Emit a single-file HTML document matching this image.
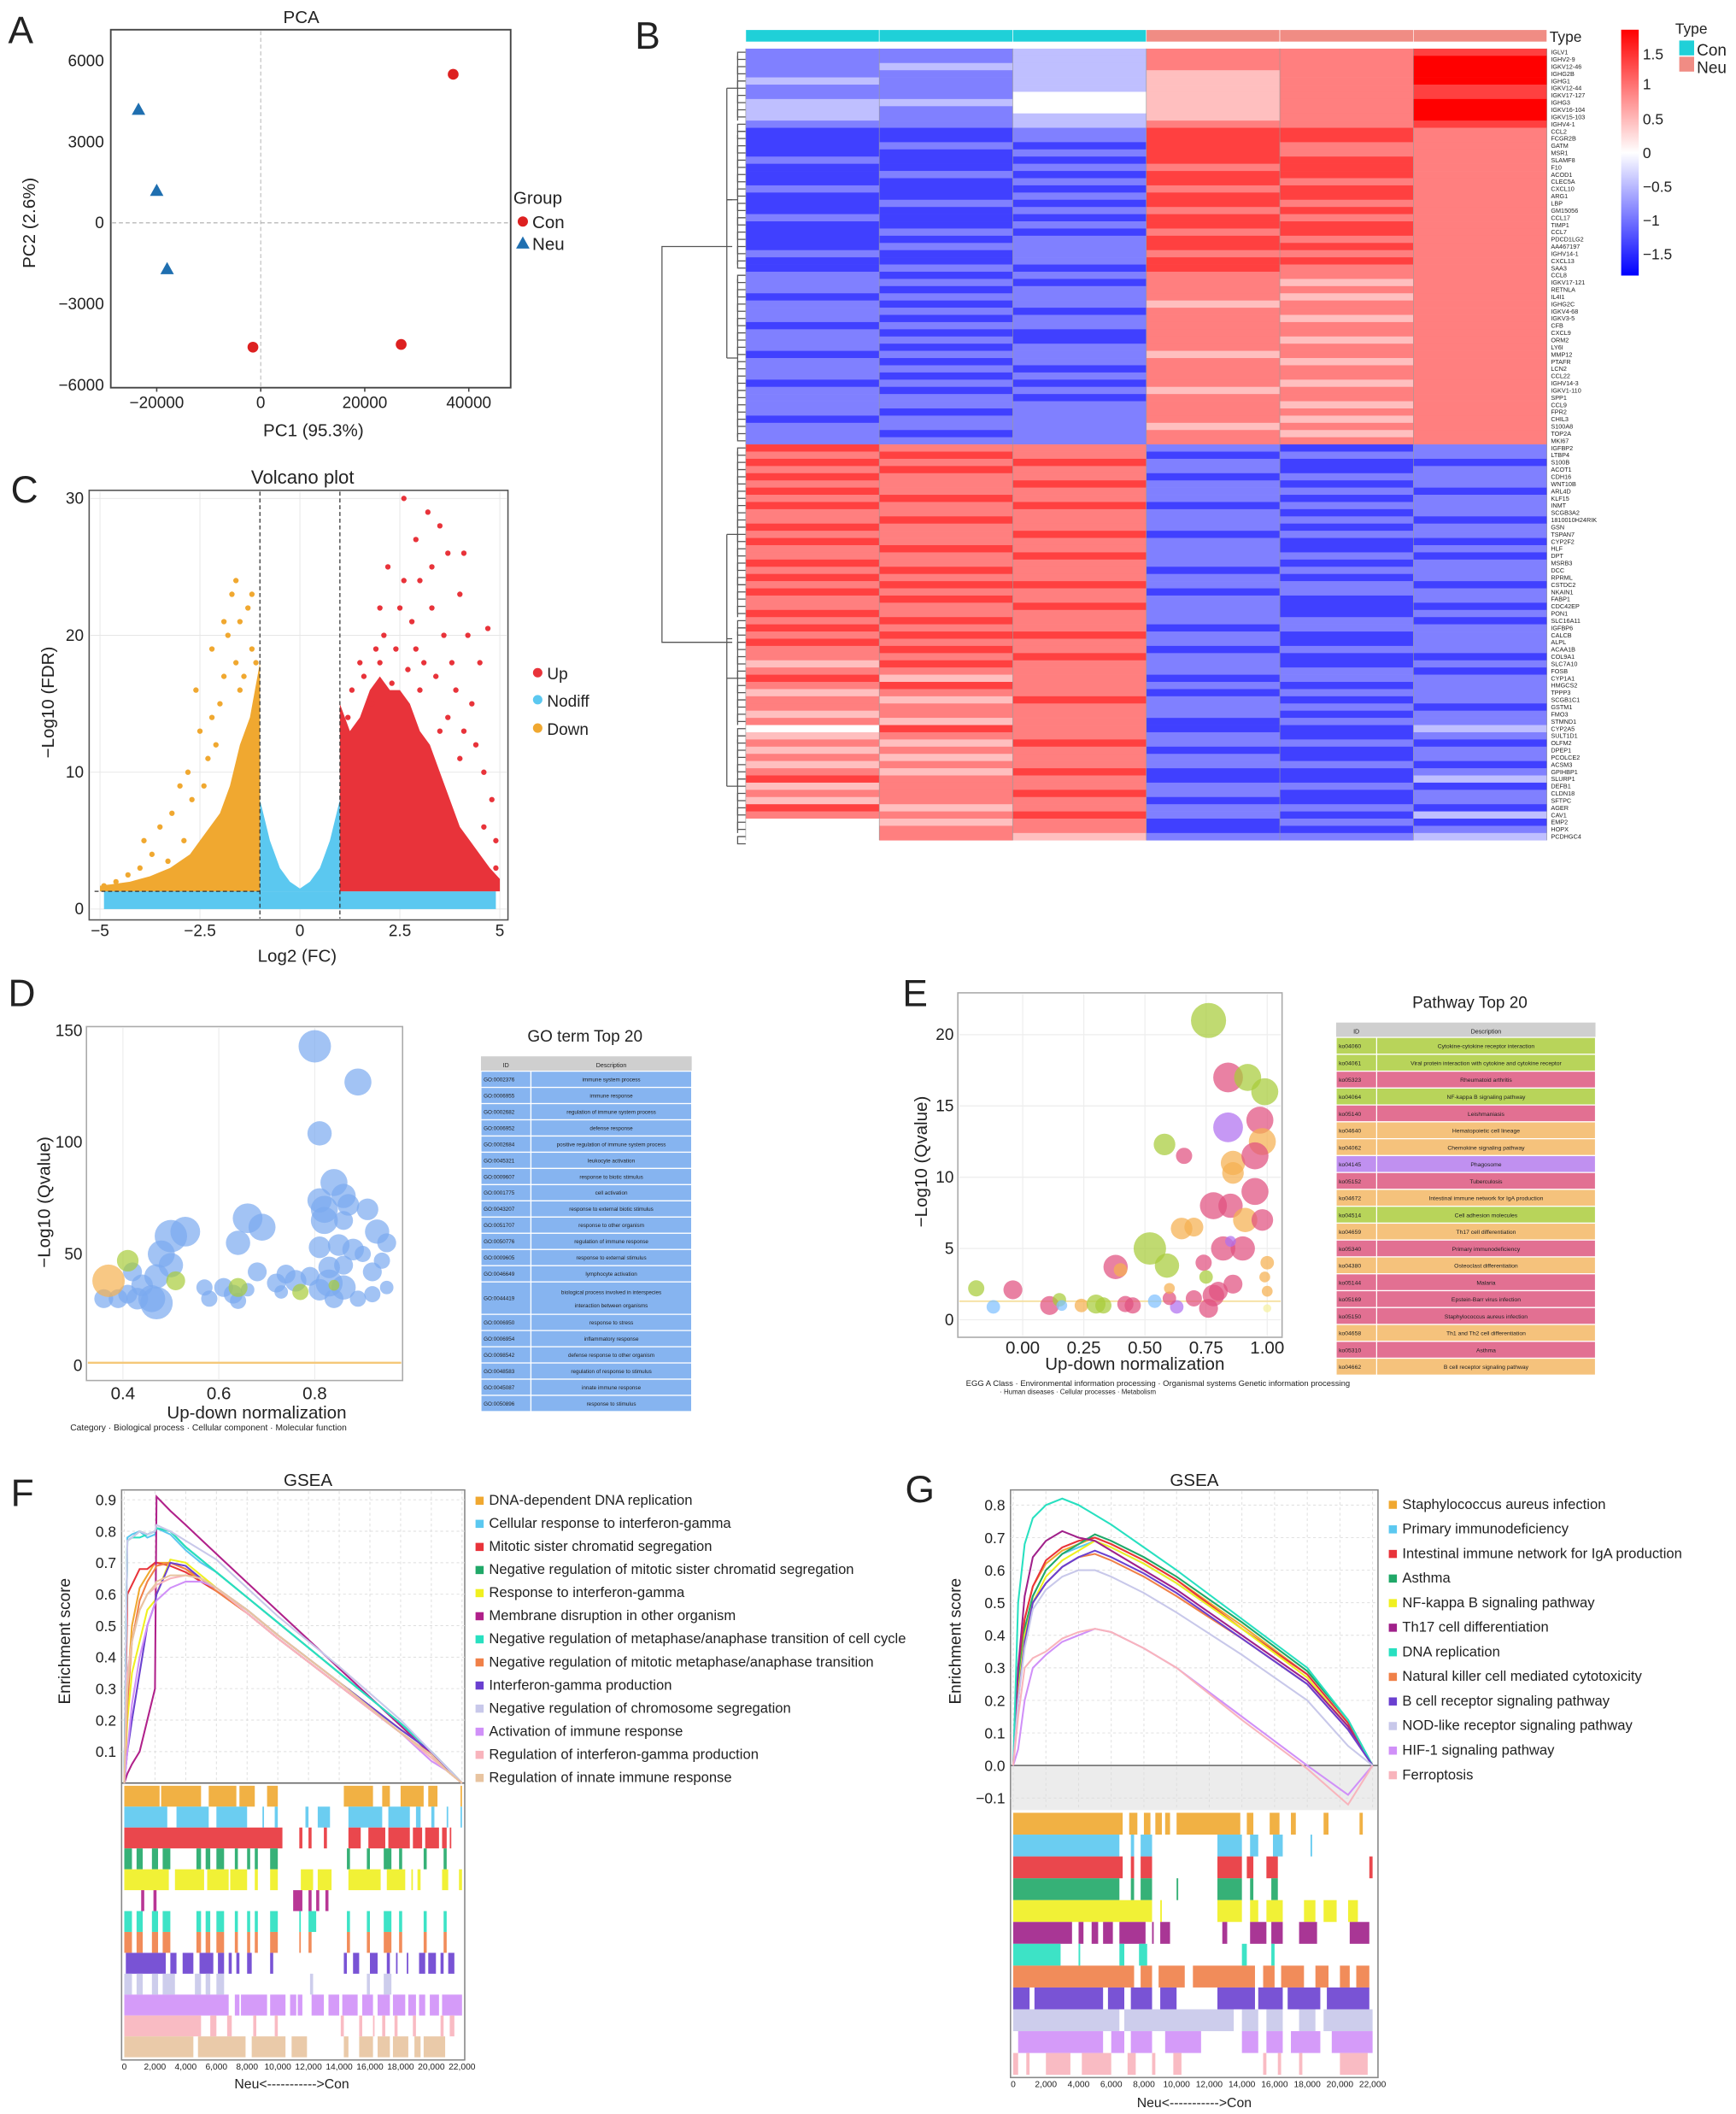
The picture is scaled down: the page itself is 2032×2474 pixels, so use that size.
<!DOCTYPE html>
<html><head><meta charset="utf-8"><title>Figure</title>
<style>
html,body{margin:0;padding:0;background:#fff;}
svg{display:block;font-family:"Liberation Sans",Arial,sans-serif;}
text{fill:#222;}
</style></head>
<body>
<svg id="fig" xmlns="http://www.w3.org/2000/svg" width="2032" height="2474" viewBox="0 0 1285 1565" preserveAspectRatio="none">
<defs>
<linearGradient id="hmGrad" x1="0" y1="1" x2="0" y2="0">
<stop offset="0" stop-color="#0000ff"/><stop offset="0.5" stop-color="#ffffff"/><stop offset="1" stop-color="#ff0000"/>
</linearGradient>
</defs>
<!-- Panel letters -->
<text x="6" y="32" font-size="28">A</text>
<text x="470" y="36" font-size="28">B</text>
<text x="8" y="372" font-size="28">C</text>
<text x="6" y="745" font-size="28">D</text>
<text x="668" y="745" font-size="28">E</text>
<text x="8" y="1115" font-size="28">F</text>
<text x="670" y="1112" font-size="28">G</text>

<!-- Panel A -->
<g id="pA">
<text x="223" y="17" font-size="13" text-anchor="middle">PCA</text>
<rect x="82" y="22" width="296" height="265" fill="none" stroke="#444" stroke-width="1.2"/>
<text x="26" y="165" font-size="13" text-anchor="middle" transform="rotate(-90 26 165)">PC2 (2.6%)</text>
<text x="232" y="323" font-size="13" text-anchor="middle">PC1 (95.3%)</text>
<text x="380" y="151" font-size="13">Group</text>
<circle cx="387" cy="164" r="3.8" fill="#dd2020"/>
<text x="394" y="169" font-size="13">Con</text>
<path d="M387 175 L392 184 L382 184 Z" fill="#1f6fb0"/>
<text x="394" y="185" font-size="13">Neu</text>
</g>

<!-- Panel B -->
<g id="pB">
<text x="1147" y="31" font-size="11">Type</text>
<rect x="1200" y="22" width="13" height="182" fill="url(#hmGrad)"/>
<text x="1216" y="44" font-size="11">1.5</text>
<text x="1216" y="66" font-size="11">1</text>
<text x="1216" y="92" font-size="11">0.5</text>
<text x="1216" y="117" font-size="11">0</text>
<text x="1216" y="142" font-size="11">−0.5</text>
<text x="1216" y="167" font-size="11">−1</text>
<text x="1216" y="192" font-size="11">−1.5</text>
<text x="1240" y="25" font-size="11">Type</text>
<rect x="1243" y="30" width="11" height="11" fill="#1fd0d8"/>
<text x="1256" y="41" font-size="12">Con</text>
<rect x="1243" y="42" width="11" height="11" fill="#f08c84"/>
<text x="1256" y="54" font-size="12">Neu</text>
<g id="dendro" fill="none" stroke="#555" stroke-width="0.8"></g>
<g id="hmCells"></g>
<g id="hmLabels"></g>
</g>

<!-- Panel C -->
<g id="pC">
<text x="224" y="358" font-size="14" text-anchor="middle">Volcano plot</text>
<text x="40" y="520" font-size="13" text-anchor="middle" transform="rotate(-90 40 520)">−Log10 (FDR)</text>
<text x="220" y="712" font-size="13" text-anchor="middle">Log2 (FC)</text>
<circle cx="398" cy="498" r="3.5" fill="#e8333a"/>
<text x="405" y="503" font-size="12">Up</text>
<circle cx="398" cy="518" r="3.5" fill="#5bc8f0"/>
<text x="405" y="523" font-size="12">Nodiff</text>
<circle cx="398" cy="539" r="3.5" fill="#f0a830"/>
<text x="405" y="544" font-size="12">Down</text>
</g>

<!-- Panel D -->
<g id="pD">
<text x="37" y="890" font-size="13" text-anchor="middle" transform="rotate(-90 37 890)">−Log10 (Qvalue)</text>
<text x="190" y="1050" font-size="13" text-anchor="middle">Up-down normalization</text>
<text x="52" y="1059" font-size="6.5" fill="#555">Category · Biological process  ·  Cellular component  ·  Molecular function</text>
<text x="433" y="771" font-size="12" text-anchor="middle">GO term Top 20</text>
</g>

<!-- Panel E -->
<g id="pE">
<text x="686" y="860" font-size="13" text-anchor="middle" transform="rotate(-90 686 860)">−Log10 (Qvalue)</text>
<text x="840" y="1014" font-size="13" text-anchor="middle">Up-down normalization</text>
<text x="715" y="1026" font-size="6" fill="#555">EGG A Class  · Environmental information processing · Organismal systems   Genetic information processing</text>
<text x="740" y="1032" font-size="5" fill="#666">· Human diseases                           · Cellular processes   · Metabolism</text>
<text x="1088" y="746" font-size="12" text-anchor="middle">Pathway Top 20</text>
</g>

<!-- Panel F -->
<g id="pF">
<text x="228" y="1100" font-size="13" text-anchor="middle">GSEA</text>
<text x="52" y="1215" font-size="12" text-anchor="middle" transform="rotate(-90 52 1215)">Enrichment score</text>
<text x="216" y="1546" font-size="10" text-anchor="middle">Neu&lt;-----------&gt;Con</text>
</g>

<!-- Panel G -->
<g id="pG">
<text x="884" y="1100" font-size="13" text-anchor="middle">GSEA</text>
<text x="711" y="1215" font-size="12" text-anchor="middle" transform="rotate(-90 711 1215)">Enrichment score</text>
<text x="884" y="1560" font-size="10" text-anchor="middle">Neu&lt;-----------&gt;Con</text>
</g>
</svg>

<script>
// ---------------- DATA ----------------
// Panel A
const pcaConPC1 = [37000, -1500, 27000];
const pcaConPC2 = [5500, -4600, -4500];
const pcaNeuPC1 = [-23500, -20000, -18000];
const pcaNeuPC2 = [4200, 1200, -1700];
const pcaXTicks = [-20000, 0, 20000, 40000];
const pcaYTicks = [6000, 3000, 0, -3000, -6000];

// Panel B (digit d -> value -1.6 + 0.4*d)
const hmSampleTypes = ["Con","Con","Con","Neu","Neu","Neu"];
const hmRows = ["223667","223668","233668","223568","323568","223567","224567","334568","324568","323568","223667",
"112776","112776","121766","112766","211776","112676","121776","112766","211676","112776","121766","112676","211766","112776","121676","112766","122776","212666","112776","121766",
"212666","221656","212666","122656","212566","221666","212656","122666","211666","221656","212666","122566","212656","221666","212666","121656","212566","221666","222656","212666","122656","222566","212656","222666",
"766212","676122","767211","676212","766122","667212","766221","676212","767122","666212","676221","766212","667122","766211","676212","667221","766212","676122","766212","677221",
"766122","676212","667211","766212","676221","766122","677212","766212","676122","667211","576212","666221","756122","676212","566122","657212","666221","566212","656122","476113",
"566212","657221","566112","656212","566221","657112","766113","566221","667212","566112","756221","667213","456121","466112","465223"];
const hmGenes = ["IGLV1","IGHV2-9","IGKV12-46","IGHG2B","IGHG1","IGKV12-44","IGKV17-127","IGHG3","IGKV16-104","IGKV15-103","IGHV4-1",
"CCL2","FCGR2B","GATM","MSR1","SLAMF8","F10","ACOD1","CLEC5A","CXCL10","ARG1","LBP","GM15056","CCL17","TIMP1","CCL7","PDCD1LG2","AA467197","IGHV14-1","CXCL13","SAA3",
"CCL8","IGKV17-121","RETNLA","IL4I1","IGHG2C","IGKV4-68","IGKV3-5","CFB","CXCL9","ORM2","LY6I","MMP12","PTAFR","LCN2","CCL22","IGHV14-3","IGKV1-110","SPP1","CCL9","FPR2","CHIL3","S100A8","TOP2A","MKI67",
"IGFBP2","LTBP4","S100B","ACOT1","CDH16","WNT10B","ARL4D","KLF15","INMT","SCGB3A2","1810010H24RIK","GSN","TSPAN7","CYP2F2","HLF","DPT","MSRB3","DCC","RPRML","CSTDC2",
"NKAIN1","FABP1","CDC42EP","PON1","SLC16A11","IGFBP6","CALCB","ALPL","ACAA1B","COL9A1","SLC7A10","FOSB","CYP1A1","HMGCS2","TPPP3","SCGB1C1","GSTM1","FMO3","STMND1","CYP2A5",
"SULT1D1","OLFM2","DPEP1","PCOLCE2","ACSM3","GPIHBP1","SLURP1","DEFB1","CLDN18","SFTPC","AGER","CAV1","EMP2","HOPX","PCDHGC4"];

// Panel C
const volXTicks = [-5, -2.5, 0, 2.5, 5];
const volYTicks = [0, 10, 20, 30];
const upEnvX = [1,1.25,1.5,1.75,2,2.25,2.5,2.75,3,3.25,3.5,3.75,4,4.25,4.5,4.75,5];
const upEnvY = [15,13,14,16,17,16,16,15,13,12,10,8,6,5,4,3,2.2];
const downEnvX = [-1,-1.25,-1.5,-1.75,-2,-2.25,-2.5,-2.75,-3,-3.25,-3.5,-3.75,-4,-4.25,-4.5,-4.75,-5];
const downEnvY = [18,14,12,9,7,6,5,4,3.5,3,2.7,2.4,2.2,2,1.9,1.8,1.7];
const nodiffEnvX = [-1,-0.75,-0.5,-0.25,0,0.25,0.5,0.75,1];
const nodiffEnvY = [8,5,3,2,1.5,2,3,5,8];
const upPtX = [2.6,3.2,3.5,2.9,3.7,2.2,3.0,4.0,2.5,3.3,2.8,4.2,2.1,3.6,1.9,2.4,3.1,4.5,2.0,2.7,3.4,1.6,4.7,3.9,1.3,2.3,4.3,3.0,1.8,4.1,3.7,4.4,4.6,4.8,4.9,4.0,3.5,2.9,3.8,2.6,4.1,3.3,2.0,1.5,1.2,4.9,4.6];
const upPtY = [30,29,28,27,26,25,24,23,22,22,21,20,20,20,19,19,18,18,18,17.5,17,17,20.5,16,16,16.5,15,16,15,13,14,12,10,8,5,11,13,19,18,24,26,25,22,18,14,3,6];
const downPtX = [-1.6,-1.7,-1.3,-1.5,-1.8,-1.2,-1.6,-1.9,-1.4,-2.0,-2.2,-1.1,-2.5,-2.3,-2.8,-3.0,-2.7,-3.2,-3.5,-2.9,-3.7,-4.0,-3.3,-4.3,-4.6,-2.4,-2.1,-1.9,-1.5,-1.2,-4.9,-3.9,-2.6,-2.2];
const downPtY = [24,23,22,21,20,19,18,17,17,15,14,18,13,11,10,9,8,7,6,5,4,3,3.5,2.5,2,9,12,21,16,23,1.7,5,16,19];

// Panel D
const goXTicks = [0.4, 0.6, 0.8];
const goYTicks = [0, 50, 100, 150];
const goBX = [0.80,0.89,0.81,0.84,0.86,0.81,0.82,0.87,0.82,0.86,0.91,0.93,0.95,0.90,0.85,0.88,0.81,0.83,0.86,0.79,0.83,0.86,0.81,0.84,0.89,0.92,0.94,0.95,0.92,0.74,0.72,0.76,0.73,0.68,0.64,0.66,0.69,0.61,0.63,0.58,0.57,0.64,0.66,0.50,0.53,0.48,0.50,0.47,0.46,0.47,0.43,0.41,0.39,0.36,0.44,0.42,0.41,0.51,0.64,0.77,0.84,0.37];
const goBY = [143,127,104,82,76,74,70,72,65,65,70,60,55,50,54,52,53,44,45,40,37,35,34,30,30,42,47,35,32,41,37,38,33,42,55,66,62,35,32,30,35,29,34,58,60,50,45,40,30,28,30,32,30,30,36,42,47,38,35,33,36,38];
const goBSize = [12,10,9,10,9,9,10,8,10,7,8,9,7,6,8,8,8,8,7,7,10,9,8,7,6,7,6,5,6,7,7,8,5,7,9,11,10,7,7,6,6,6,5,12,11,10,9,9,10,12,8,7,7,7,8,7,8,7,7,6,4,12];
const goBCat = "BBBBBBBBBBBBBBBBBBBBBBBBBBBBBBBBBBBBBBBBBBBBBBBBBBBBBBBBCCCCCM";
const goIDs = ["GO:0002376","GO:0006955","GO:0002682","GO:0006952","GO:0002684","GO:0045321","GO:0009607","GO:0001775","GO:0043207","GO:0051707","GO:0050776","GO:0009605","GO:0046649","GO:0044419","GO:0006950","GO:0006954","GO:0098542","GO:0048583","GO:0045087","GO:0050896"];
const goDesc = ["immune system process","immune response","regulation of immune system process","defense response","positive regulation of immune system process","leukocyte activation","response to biotic stimulus","cell activation","response to external biotic stimulus","response to other organism","regulation of immune response","response to external stimulus","lymphocyte activation","biological process involved in interspecies interaction between organisms","response to stress","inflammatory response","defense response to other organism","regulation of response to stimulus","innate immune response","response to stimulus"];

// Panel E
const keggXTicks = [0, 0.25, 0.5, 0.75, 1.0];
const keggXTickLabels = ["0.00","0.25","0.50","0.75","1.00"];
const keggYTicks = [0, 5, 10, 15, 20];
const keggBX = [0.76,0.84,0.92,0.99,0.97,0.84,0.98,0.86,0.95,0.58,0.66,0.86,0.95,0.78,0.85,0.91,0.65,0.70,0.98,0.90,0.82,0.52,0.59,0.38,0.40,0.74,0.75,0.80,0.86,0.85,0.70,0.76,0.78,1.0,1.0,0.99,-0.19,-0.04,-0.12,0.11,0.15,0.16,0.24,0.30,0.33,0.42,0.45,0.54,0.63,0.60,0.60,1.0];
const keggBY = [21,17,17,16,14,13.5,12.5,11,11.5,12.3,11.5,10.3,9,8,8,7,6.4,6.5,7,5,5,5,3.8,3.7,3.5,4,3,2,2.5,5.5,1.5,0.8,1.7,4,2,3,2.2,2.1,0.9,1,1.4,1,1,1.1,1,1.1,1,1.3,0.9,1.5,2.2,0.8];
const keggBSize = [13,11,10,10,10,11,10,9,10,8,6,8,10,10,9,9,8,7,8,9,9,12,9,9,5,6,5,7,7,4,6,7,8,5,4,4,6,7,5,7,5,4,5,7,6,6,6,5,5,5,4,3];
const keggBCat = "GPGGPUOOPGPOPPPOOOPPPGGPOPGPPUPPPOOOGPBPGBOGGPPBUPOY";
const keggIDs = ["ko04060","ko04061","ko05323","ko04064","ko05140","ko04640","ko04062","ko04145","ko05152","ko04672","ko04514","ko04659","ko05340","ko04380","ko05144","ko05169","ko05150","ko04658","ko05310","ko04662"];
const keggDesc = ["Cytokine-cytokine receptor interaction","Viral protein interaction with cytokine and cytokine receptor","Rheumatoid arthritis","NF-kappa B signaling pathway","Leishmaniasis","Hematopoietic cell lineage","Chemokine signaling pathway","Phagosome","Tuberculosis","Intestinal immune network for IgA production","Cell adhesion molecules","Th17 cell differentiation","Primary immunodeficiency","Osteoclast differentiation","Malaria","Epstein-Barr virus infection","Staphylococcus aureus infection","Th1 and Th2 cell differentiation","Asthma","B cell receptor signaling pathway"];
const keggRowCat = "GGPGPOOUPOGOPOPPPOPO";

// Panel F
const gseaXTicks = [0,2000,4000,6000,8000,10000,12000,14000,16000,18000,20000,22000];
const gseaXTickLabels = ["0","2,000","4,000","6,000","8,000","10,000","12,000","14,000","16,000","18,000","20,000","22,000"];
const fYTicks = [0.1,0.2,0.3,0.4,0.5,0.6,0.7,0.8,0.9];
const fNames = ["DNA-dependent DNA replication","Cellular response to interferon-gamma","Mitotic sister chromatid segregation","Negative regulation of mitotic sister chromatid segregation","Response to interferon-gamma","Membrane disruption in other organism","Negative regulation of metaphase/anaphase transition of cell cycle","Negative regulation of mitotic metaphase/anaphase transition","Interferon-gamma production","Negative regulation of chromosome segregation","Activation of immune response","Regulation of interferon-gamma production","Regulation of innate immune response"];
const fRanks = [0,200,500,1000,1500,2000,2100,3000,4000,5000,6000,8000,10000,14000,18000,20000,21000,22000];
const fES1 = [0,0.3,0.5,0.62,0.66,0.7,0.7,0.7,0.68,0.64,0.61,0.54,0.46,0.31,0.16,0.09,0.04,0];
const fES2 = [0,0.78,0.79,0.8,0.78,0.79,0.81,0.79,0.74,0.7,0.67,0.59,0.51,0.35,0.19,0.1,0.05,0];
const fES3 = [0,0.6,0.63,0.68,0.68,0.7,0.7,0.69,0.67,0.64,0.61,0.54,0.46,0.31,0.16,0.09,0.04,0];
const fES4 = [0,0.77,0.78,0.8,0.79,0.8,0.81,0.8,0.75,0.71,0.67,0.59,0.51,0.35,0.19,0.1,0.05,0];
const fES5 = [0,0.2,0.35,0.45,0.55,0.58,0.6,0.71,0.7,0.66,0.62,0.55,0.47,0.32,0.17,0.1,0.05,0];
const fES6 = [0,0.03,0.06,0.1,0.2,0.3,0.91,0.865,0.82,0.774,0.728,0.637,0.546,0.364,0.182,0.091,0.046,0];
const fES7 = [0,0.77,0.78,0.78,0.79,0.8,0.81,0.8,0.75,0.71,0.67,0.59,0.51,0.35,0.19,0.1,0.05,0];
const fES8 = [0,0.25,0.45,0.58,0.64,0.68,0.69,0.7,0.68,0.65,0.61,0.54,0.46,0.31,0.16,0.09,0.04,0];
const fES9 = [0,0.1,0.2,0.35,0.5,0.57,0.6,0.7,0.69,0.65,0.62,0.55,0.47,0.32,0.17,0.1,0.05,0];
const fES10 = [0,0.77,0.78,0.8,0.79,0.8,0.82,0.8,0.77,0.74,0.71,0.62,0.53,0.37,0.2,0.1,0.05,0];
const fES11 = [0,0.1,0.25,0.4,0.5,0.57,0.58,0.62,0.64,0.64,0.62,0.54,0.46,0.31,0.16,0.07,0.04,0];
const fES12 = [0,0.35,0.45,0.55,0.6,0.62,0.63,0.65,0.66,0.65,0.62,0.54,0.46,0.31,0.16,0.08,0.04,0];
const fES13 = [0,0.3,0.45,0.55,0.6,0.63,0.64,0.66,0.66,0.65,0.62,0.55,0.47,0.32,0.16,0.09,0.04,0];
const fHits = ["0-2.3,2.4-5,5.5-7.3,7.5-8.5,9.3-10,14.3-16.2,16.8-17.3,18-19.5,19.8-20.4,21.9-22",
"0-2.8,3.4-5.5,6-8,9-9.1,9.8-10,11.8-12,12.6-13.4,14.6-16.8,17.2-18.6,19-19.3,20-20.2,21-21.1,21.9-22",
"0-10.3,11.4-11.6,12-12.2,13-13.2,14.6-15.4,15.9-17,17.2-18.6,18.8-19.4,19.6-20.5,20.7-21,21.2-21.3",
"0-0.5,0.8-1.2,1.8-2.2,2.5-3,4.7-5,5.3-5.6,6-6.5,7.2-7.4,8-8.2,8.5-8.7,9.5-10,14.5-14.7,15.8-16,16.9-17.4,17.9-18.1,19.5-19.7,20.8-21",
"0-2.9,3.3-5.2,5.4-6.8,6.9-8,8.5-8.7,9.5-10,11.5-12.3,12.6-13.5,14.6-16.7,17.1-18.3,18.7-18.8,19.1-19.3,20.7-21.1,21.8-22",
"1.1-1.3,1.9-2.1,11-11.6,12-12.2,12.5-12.7,13.1-13.3",
"0-0.5,0.8-1.2,1.8-2.2,2.5-3,4.7-5,5.3-5.6,6-6.5,7.2-7.4,8-8.2,8.5-8.7,9.5-10,11.4-11.5,12-12.5,14.5-14.7,15.8-16,16.9-17.4,17.9-18.1,19.5-19.7,20.8-21",
"0-0.5,0.8-1.2,1.8-2.2,2.5-3,4.7-5,5.3-5.6,6-6.5,7.2-7.4,8-8.2,8.5-8.7,9.5-10,11.4-11.5,12-12.2,14.5-14.7,15.8-16,16.9-17.4,17.9-18.1,19.5-19.7,20.8-21",
"0.1-2.7,3-3.4,3.8-4.5,4.9-5.8,6.1-6.5,6.8-7,7.3-7.5,8-8.3,9.5-9.7,14.3-14.5,14.9-15.3,16-16.5,17.1-17.3,17.7-17.8,18.4-18.5,19.2-19.6,19.8-20.3,20.6-20.8,21.1-21.5",
"0-0.5,0.8-1.2,1.8-2.2,2.5-3.3,4.6-5,5.3-5.6,6-6.5,12.1-12.3,15.8-16,16.9-17.4",
"0-6.8,7.2-7.5,7.6-9.3,9.5-10.5,10.8-11.2,11.3-11.6,12.2-13,13.3-14,14.2-15.2,15.5-16.2,16.5-17.3,17.5-18.3,18.5-19,19.2-19.6,19.9-20.5,20.7-22",
"0-5,5.6-6,6.7-7,8.4-8.6,9.8-10,14.1-14.3,15.3-15.5,16.2-16.3,16.8-17,17.6-17.8,18.8-19,20.6-20.8,21.2-21.5",
"0-4.5,4.8-7.9,8.3-10.5,10.9-11.9,14.3-14.6,15.3-16.2,16.5-17.3,17.5-18.5,18.9-19.3,19.5-20.9"];

// Panel G
const gYTicks = [-0.1,0,0.1,0.2,0.3,0.4,0.5,0.6,0.7,0.8];
const gYTickLabels = ["−0.1","0.0","0.1","0.2","0.3","0.4","0.5","0.6","0.7","0.8"];
const gNames = ["Staphylococcus aureus infection","Primary immunodeficiency","Intestinal immune network for IgA production","Asthma","NF-kappa B signaling pathway","Th17 cell differentiation","DNA replication","Natural killer cell mediated cytotoxicity","B cell receptor signaling pathway","NOD-like receptor signaling pathway","HIF-1 signaling pathway","Ferroptosis"];
const gRanks = [0,300,700,1200,2000,3000,4000,5000,6000,8000,10000,14000,18000,20500,22000];
const gES1 = [0,0.25,0.45,0.55,0.62,0.66,0.68,0.7,0.68,0.63,0.57,0.43,0.28,0.13,0];
const gES2 = [0,0.25,0.42,0.52,0.6,0.65,0.67,0.69,0.67,0.62,0.56,0.42,0.28,0.13,0];
const gES3 = [0,0.3,0.45,0.55,0.63,0.67,0.69,0.7,0.68,0.63,0.57,0.42,0.28,0.13,0];
const gES4 = [0,0.25,0.42,0.52,0.6,0.65,0.68,0.71,0.69,0.64,0.58,0.44,0.29,0.14,0];
const gES5 = [0,0.22,0.4,0.5,0.58,0.63,0.66,0.69,0.67,0.62,0.56,0.42,0.27,0.12,0];
const gES6 = [0,0.3,0.52,0.64,0.69,0.72,0.7,0.69,0.66,0.6,0.54,0.4,0.26,0.12,0];
const gES7 = [0,0.5,0.68,0.76,0.8,0.82,0.8,0.77,0.74,0.67,0.6,0.45,0.3,0.14,0];
const gES8 = [0,0.2,0.38,0.5,0.56,0.61,0.64,0.65,0.63,0.58,0.52,0.39,0.25,0.11,0];
const gES9 = [0,0.2,0.38,0.5,0.56,0.61,0.64,0.66,0.64,0.59,0.53,0.39,0.25,0.11,0];
const gES10 = [0,0.2,0.36,0.48,0.54,0.58,0.6,0.6,0.58,0.53,0.47,0.34,0.2,0.06,0];
const gES11 = [0,0.05,0.2,0.3,0.34,0.38,0.4,0.42,0.41,0.36,0.3,0.15,0.0,-0.09,0];
const gES12 = [0,0.15,0.3,0.33,0.35,0.39,0.41,0.42,0.41,0.36,0.3,0.14,-0.01,-0.12,0];
const gHits = ["0-6.7,7.1-7.6,8-8.4,8.7-9.1,9.3-9.6,10-13.9,14.3-14.7,15.7-16.3,17-17.3,19-19.3,21.2-21.4",
"0-6.5,7.2-7.4,7.8-8.5,12.5-14,14.5-15,15.9-16.5,18.2-18.3",
"0-6.7,7.2-7.4,7.8-8.5,12.5-14,14.3-14.7,15.5-16.2,21.8-22",
"0-6.5,7.2-7.4,7.8-8.5,10-10.1,12.5-14,14.5-14.7,15.8-16.2",
"0-8.5,9-9.1,12.5-14,14.5-15,15.5-16.5,17.8-18.5,19-19.8,20.5-21.1",
"0-3.6,4-4.3,4.8-5.2,5.5-6.1,6.5-8.1,8.5-8.6,9-9.6,12.8-13.1,14.5-15.5,15.8-16.5,17.5-18.6,20.6-21.8",
"0-2.9,4-4.1,6.5-6.8,7.7-8.2,14-14.3,15.8-16",
"0-7.4,7.8-8.5,8.9-10.5,11-14.8,15.3-16,16.4-17.8,18.5-19.3,20-20.6,21-21.8",
"0-1,1.3-5.5,5.8-6.8,7.2-8.5,9-10,12.5-14.8,15-16.5,16.8-18.8,19.2-21.8",
"0-6.5,6.8-13.5,14-15,15.5-16.5,17.5-18.5,19-22",
"0.3-5.5,6-6.8,7.2-8.5,9.3-11.5,14-15,15.5-16.5,17-18.8,19.5-22",
"0-0.3,0.8-1,2-3.5,4.2-6,7-7.5,8.5-8.7,9.8-10.3,15.3-15.5,16.2-16.4,17.5-17.7,20-21.7"];

// ---------------- HELPERS ----------------
const NS = "http://www.w3.org/2000/svg";
function mk(tag, attrs, parent) {
  const e = document.createElementNS(NS, tag);
  for (const k in attrs) e.setAttribute(k, attrs[k]);
  (parent || document.getElementById('fig')).appendChild(e);
  return e;
}
function lin(d0, d1, r0, r1) { return v => r0 + (v - d0) * (r1 - r0) / (d1 - d0); }
function txt(parent, x, y, s, size, anchor, name, fill) {
  const t = mk('text', {x: x, y: y, 'font-size': size, 'text-anchor': anchor || 'start'}, parent);
  if (fill) t.setAttribute('fill', fill);
  t.textContent = s;
  
  
  return t;
}
function parseHits(s) { return s.split(',').map(p => p.split('-').map(Number)); }

// ---------------- PANEL A ----------------
(function () {
  const g = document.getElementById('pA');
  const x = lin(0, 20000, 193, 270), y = lin(0, 3000, 165, 105);
  const vl = mk('line', {x1: x(0), y1: 23, x2: x(0), y2: 286, stroke: '#bbb', 'stroke-dasharray': '3 2', 'stroke-width': 0.7}, g);
  
  
  const hl = mk('line', {x1: 83, y1: y(0), x2: 377, y2: y(0), stroke: '#aaa', 'stroke-dasharray': '3 2', 'stroke-width': 0.7}, g);
  
  
  pcaXTicks.forEach(v => {
    const t = txt(g, x(v), 302, String(v).replace('-', '−'), 12, 'middle', 'pca-x-tick');
    const tk = mk('line', {x1: x(v), y1: 287, x2: x(v), y2: 290, stroke: '#444'}, g);
    
    
  });
  pcaYTicks.forEach(v => {
    txt(g, 77, y(v) + 4, String(v).replace('-', '−'), 12, 'end', 'pca-y-tick');
  });
  pcaConPC1.forEach((v, i) => {
    const c = mk('circle', {cx: x(v), cy: y(pcaConPC2[i]), r: 4, fill: '#dd2020'}, g);
    
    
  });
  pcaNeuPC1.forEach((v, i) => {
    const px = x(v), py = y(pcaNeuPC2[i]);
    const p = mk('path', {d: `M${px} ${py - 5} L${px + 5} ${py + 4} L${px - 5} ${py + 4} Z`, fill: '#1f6fb0'}, g);
    
    
  });
})();

// ---------------- PANEL B ----------------
(function () {
  const cells = document.getElementById('hmCells');
  const labs = document.getElementById('hmLabels');
  const x0 = 552, x1 = 1145, top = 36, bot = 622;
  const cw = (x1 - x0) / hmSampleTypes.length, rh = (bot - top) / hmRows.length;
  function col(v) {
    const t = Math.max(-1, Math.min(1, v / 1.6));
    if (t >= 0) { const k = Math.round(255 * (1 - t)); return `rgb(255,${k},${k})`; }
    const k = Math.round(255 * (1 + t)); return `rgb(${k},${k},255)`;
  }
  hmSampleTypes.forEach((tp, j) => {
    const r = mk('rect', {x: x0 + j * cw, y: 22, width: cw, height: 9, fill: tp === 'Con' ? '#1fd0d8' : '#f08c84', stroke: '#fff', 'stroke-width': 0.4}, cells);
    
    
  });
  hmRows.forEach((row, i) => {
    for (let j = 0; j < 6; j++) {
      const v = -1.6 + 0.4 * Number(row[j]);
      const r = mk('rect', {x: x0 + j * cw, y: top + i * rh, width: cw + 0.2, height: rh + 0.2, fill: col(v)}, cells);
      
      
    }
  });
  for (let j = 0; j <= 6; j++) {
    const l = mk('line', {x1: x0 + j * cw, y1: top, x2: x0 + j * cw, y2: bot, stroke: '#999', 'stroke-width': 0.4}, cells);
    
    
  }
  hmGenes.forEach((gname, i) => {
    txt(labs, 1148, top + (i + 0.8) * rh, gname, 4.6, 'start', 'gene-label', '#333');
  });
  // dendrogram
  const d = document.getElementById('dendro');
  const half = 55;
  const yU = top + (half / 2) * rh, yL = top + (half + half / 2) * rh;
  const paths = [];
  paths.push(`M542 ${yU} H490 V${yL} H542`);
  // upper sub-clusters
  const sub = [[0, 11], [11, 31], [31, 55], [55, 80], [80, 95], [95, 110]];
  sub.forEach(([a, b]) => {
    const ya = top + a * rh, yb = top + b * rh, mid = (ya + yb) / 2;
    for (let k = a; k < b; k += 2) {
      const yy = top + (k + 1) * rh;
      paths.push(`M552 ${yy - rh / 2} H546 V${yy + rh / 2} H552`);
    }
    paths.push(`M546 ${ya + rh} V${yb - rh} M546 ${mid} H538`);
  });
  paths.push(`M538 ${top + 5.5 * rh} V${top + 43 * rh} M538 ${top + 21 * rh} H542`);
  paths.push(`M538 ${top + 67.5 * rh} V${top + 102.5 * rh} M538 ${top + 82 * rh} H542`);
  paths.forEach(pd => {
    const p = mk('path', {d: pd}, d);
    
    
  });
})();

// ---------------- PANEL C ----------------
(function () {
  const g = document.getElementById('pC');
  const x = lin(0, 5, 222, 370), y = lin(0, 30, 673, 369);
  const bg = mk('rect', {x: 66, y: 363, width: 310, height: 318, fill: '#fff', stroke: '#555', 'stroke-width': 1}, g);
  
  
  volXTicks.forEach(v => {
    const l = mk('line', {x1: x(v), y1: 364, x2: x(v), y2: 680, stroke: '#e6e6e6', 'stroke-width': 0.6}, g);
    
    
    txt(g, x(v), 693, String(v).replace('-', '−'), 12, 'middle', 'volcano-x-tick');
  });
  volYTicks.forEach(v => {
    const l = mk('line', {x1: 67, y1: y(v), x2: 375, y2: y(v), stroke: '#e6e6e6', 'stroke-width': 0.6}, g);
    
    
    txt(g, 62, y(v) + 4, String(v), 12, 'end', 'volcano-y-tick');
  });
  const thr = 1.3;
  // baseline nodiff band
  const band = mk('rect', {x: x(-4.9), y: y(thr), width: x(4.9) - x(-4.9), height: y(0) - y(thr), fill: '#5bc8f0'}, g);
  
  
  function env(xs, ys, color, name) {
    let pd = `M${x(xs[0])} ${y(thr)}`;
    xs.forEach((v, i) => { pd += ` L${x(v)} ${y(ys[i])}`; });
    pd += ` L${x(xs[xs.length - 1])} ${y(thr)} Z`;
    const p = mk('path', {d: pd, fill: color}, g);
    
    
  }
  env(nodiffEnvX, nodiffEnvY, '#5bc8f0', 'volcano-nodiff-density');
  env(upEnvX, upEnvY, '#e8333a', 'volcano-up-density');
  env(downEnvX, downEnvY, '#f0a830', 'volcano-down-density');
  upPtX.forEach((v, i) => {
    const c = mk('circle', {cx: x(v), cy: y(upPtY[i]), r: 2, fill: '#e8333a'}, g);
    
    
  });
  downPtX.forEach((v, i) => {
    const c = mk('circle', {cx: x(v), cy: y(downPtY[i]), r: 2, fill: '#f0a830'}, g);
    
    
  });
  [-1, 1].forEach(v => {
    const l = mk('line', {x1: x(v), y1: 364, x2: x(v), y2: 680, stroke: '#333', 'stroke-dasharray': '3 2', 'stroke-width': 0.8}, g);
    
    
  });
  const h = mk('line', {x1: 70, y1: y(thr), x2: x(-1), y2: y(thr), stroke: '#333', 'stroke-dasharray': '3 2', 'stroke-width': 0.8}, g);
  
  
})();

// ---------------- PANEL D ----------------
(function () {
  const g = document.getElementById('pD');
  const x = lin(0.4, 0.8, 91, 233), y = lin(0, 150, 1011, 763);
  const fr = mk('rect', {x: 64, y: 760, width: 234, height: 262, fill: '#fff', stroke: '#aaa', 'stroke-width': 1}, g);
  
  
  goXTicks.forEach(v => {
    const l = mk('line', {x1: x(v), y1: 761, x2: x(v), y2: 1021, stroke: '#eee', 'stroke-width': 0.8}, g);
    
    
    txt(g, x(v), 1036, String(v), 13, 'middle', 'go-x-tick');
  });
  goYTicks.forEach(v => {
    txt(g, 61, y(v) + 4, String(v), 12, 'end', 'go-y-tick');
  });
  const yl = mk('line', {x1: 65, y1: y(1.3), x2: 297, y2: y(1.3), stroke: '#f5c878', 'stroke-width': 1.5}, g);
  
  
  const cmap = {B: '#7aaaf0', C: '#a8cc3a', M: '#f5b050'};
  goBX.forEach((v, i) => {
    const c = mk('circle', {cx: x(v), cy: y(goBY[i]), r: goBSize[i], fill: cmap[goBCat[i]], 'fill-opacity': 0.7}, g);
    
    
  });
  // table
  const tx = 356, tw = 156, idw = 37, hy = 782, rh = 12;
  const hd = mk('rect', {x: tx, y: hy, width: tw, height: 11, fill: '#cfcfcf'}, g);
  
  
  txt(g, tx + idw / 2, hy + 8, 'ID', 4.5, 'middle', 'go-table-header-id');
  txt(g, tx + idw + (tw - idw) / 2, hy + 8, 'Description', 4.5, 'middle', 'go-table-header-desc');
  let yy = hy + 11;
  goIDs.forEach((id, i) => {
    const h = i === 13 ? rh * 2 : rh;
    const r1 = mk('rect', {x: tx, y: yy, width: idw, height: h, fill: '#86b4f0', stroke: '#fff', 'stroke-width': 0.8}, g);
    
    
    const r2 = mk('rect', {x: tx + idw, y: yy, width: tw - idw, height: h, fill: '#86b4f0', stroke: '#fff', 'stroke-width': 0.8}, g);
    
    
    txt(g, tx + 2, yy + h / 2 + 1.5, id, 4, 'start', 'go-table-id', '#1a2a50');
    if (i === 13) {
      txt(g, tx + idw + (tw - idw) / 2, yy + 9, 'biological process involved in interspecies', 4, 'middle', 'go-table-desc', '#1a2a50');
      txt(g, tx + idw + (tw - idw) / 2, yy + 19, 'interaction between organisms', 4, 'middle', 'go-table-desc', '#1a2a50');
    } else {
      txt(g, tx + idw + (tw - idw) / 2, yy + h / 2 + 1.5, goDesc[i], 4, 'middle', 'go-table-desc', '#1a2a50');
    }
    yy += h;
  });
})();

// ---------------- PANEL E ----------------
(function () {
  const g = document.getElementById('pE');
  const x = lin(0, 1, 757, 938), y = lin(0, 20, 977, 766);
  const fr = mk('rect', {x: 709, y: 735, width: 240, height: 255, fill: '#fff', stroke: '#aaa', 'stroke-width': 1}, g);
  
  
  keggXTicks.forEach((v, i) => {
    const l = mk('line', {x1: x(v), y1: 736, x2: x(v), y2: 989, stroke: '#eee', 'stroke-width': 0.8}, g);
    
    
    txt(g, x(v), 1002, keggXTickLabels[i], 13, 'middle', 'kegg-x-tick');
  });
  keggYTicks.forEach(v => {
    const l = mk('line', {x1: 710, y1: y(v), x2: 948, y2: y(v), stroke: '#eee', 'stroke-width': 0.8}, g);
    
    
    txt(g, 706, y(v) + 4, String(v), 12, 'end', 'kegg-y-tick');
  });
  const sl = mk('line', {x1: 710, y1: y(1.3), x2: 948, y2: y(1.3), stroke: '#f5e0a0', 'stroke-width': 1.2}, g);
  
  
  const cmap = {G: '#a8cc3a', P: '#e05080', O: '#f5b050', U: '#b070f0', B: '#80c0ff', Y: '#f5f0a0'};
  keggBX.forEach((v, i) => {
    const c = mk('circle', {cx: x(v), cy: y(keggBY[i]), r: keggBSize[i], fill: cmap[keggBCat[i]], 'fill-opacity': 0.72}, g);
    
    
  });
  const rmap = {G: '#b8d45a', P: '#e27092', O: '#f5c27c', U: '#c090f0'};
  const tx = 989, tw = 192, idw = 30, hy = 757, rh = 12.5;
  const hd = mk('rect', {x: tx, y: hy, width: tw, height: 11, fill: '#cfcfcf'}, g);
  
  
  txt(g, tx + idw / 2, hy + 8, 'ID', 4.5, 'middle', 'kegg-table-header-id');
  txt(g, tx + idw + (tw - idw) / 2, hy + 8, 'Description', 4.5, 'middle', 'kegg-table-header-desc');
  keggIDs.forEach((id, i) => {
    const yy = hy + 11 + i * rh;
    const r = mk('rect', {x: tx, y: yy, width: tw, height: rh, fill: rmap[keggRowCat[i]], stroke: '#fff', 'stroke-width': 0.8}, g);
    
    
    const sep = mk('line', {x1: tx + idw, y1: yy, x2: tx + idw, y2: yy + rh, stroke: '#fff', 'stroke-width': 0.8}, g);
    
    
    txt(g, tx + 2, yy + 8, id, 4.3, 'start', 'kegg-table-id', '#2a1a20');
    txt(g, tx + idw + (tw - idw) / 2, yy + 8, keggDesc[i], 4.3, 'middle', 'kegg-table-desc', '#2a1a20');
  });
})();

// ---------------- GSEA ----------------
function gsea(opts) {
  const g = document.getElementById(opts.id);
  const x = lin(0, 22000, opts.x0, opts.x1), y = lin(0, 0.1, opts.yZero, opts.yZero - opts.step);
  const fr = mk('rect', {x: opts.bx0, y: opts.top, width: opts.bx1 - opts.bx0, height: opts.bottom - opts.top, fill: '#fff', stroke: '#888', 'stroke-width': 1}, g);
  
  
  if (opts.band) {
    const b = mk('rect', {x: opts.bx0 + 0.5, y: opts.yZero, width: opts.bx1 - opts.bx0 - 1, height: opts.band, fill: '#ececec'}, g);
    
    
  }
  gseaXTicks.forEach((v, i) => {
    const l = mk('line', {x1: x(v), y1: opts.top + 1, x2: x(v), y2: opts.yZero + (opts.band || 0), stroke: '#ddd', 'stroke-dasharray': '2 2', 'stroke-width': 0.6}, g);
    
    
    txt(g, x(v), opts.bottom + 7, gseaXTickLabels[i], 6.5, 'middle', opts.pre + '-x-tick', '#444');
  });
  opts.yTicks.forEach((v, i) => {
    const l = mk('line', {x1: opts.bx0, y1: y(v), x2: opts.bx1, y2: y(v), stroke: '#ddd', 'stroke-dasharray': '2 2', 'stroke-width': 0.6}, g);
    
    
    txt(g, opts.bx0 - 4, y(v) + 4, opts.yLabels ? opts.yLabels[i] : String(v), 11, 'end', opts.pre + '-y-tick');
  });
  const zl = mk('line', {x1: opts.bx0, y1: opts.yZero, x2: opts.bx1, y2: opts.yZero, stroke: '#666', 'stroke-width': 1}, g);
  
  
  opts.series.forEach((es, k) => {
    const pts = es.map((v, i) => `${x(opts.ranks[i])},${y(v)}`).join(' ');
    const p = mk('polyline', {points: pts, fill: 'none', stroke: opts.colors[k], 'stroke-width': 1.3}, g);
    
    
  });
  const rowTop = opts.yZero + (opts.band || 0) + 2;
  const rh = (opts.bottom - 2 - rowTop) / opts.hits.length;
  opts.hits.forEach((s, k) => {
    parseHits(s).forEach(([a, b]) => {
      const r = mk('rect', {x: x(a * 1000), y: rowTop + k * rh, width: Math.max(0.8, x(b * 1000) - x(a * 1000)), height: rh, fill: opts.colors[k], 'fill-opacity': 0.9}, g);
      
      
    });
  });
  opts.names.forEach((n, k) => {
    const yy = opts.legY + k * opts.legStep;
    const sw = mk('rect', {x: opts.legX, y: yy - 6, width: 6, height: 6, fill: opts.colors[k]}, g);
    
    
    const t = txt(g, opts.legX + 10, yy, n, 10.5, 'start', opts.pre + '-legend-entry');
    
  });
}
gsea({id: 'pF', pre: 'gsea-f', x0: 92, x1: 342, yZero: 1320, step: 23.3, bx0: 90, bx1: 344, top: 1103, bottom: 1525,
  yTicks: fYTicks, ranks: fRanks,
  series: [fES1, fES2, fES3, fES4, fES5, fES6, fES7, fES8, fES9, fES10, fES11, fES12, fES13],
  colors: ['#f0a830', '#5bc8f0', '#e8333a', '#20a868', '#f0f020', '#b0208a', '#28e0c0', '#f08048', '#6a40d0', '#c8c8ea', '#d090f8', '#f8b4bc', '#e8c4a0'],
  hits: fHits, names: fNames, legX: 352, legY: 1114, legStep: 17.1});
gsea({id: 'pG', pre: 'gsea-g', x0: 750, x1: 1016, yZero: 1307, step: 24.1, bx0: 748, bx1: 1020, top: 1103, bottom: 1538, band: 33,
  yTicks: gYTicks, yLabels: gYTickLabels, ranks: gRanks,
  series: [gES1, gES2, gES3, gES4, gES5, gES6, gES7, gES8, gES9, gES10, gES11, gES12],
  colors: ['#f0a830', '#5bc8f0', '#e8333a', '#20a868', '#f0f020', '#a0208a', '#28e0c0', '#f08048', '#6a40d0', '#c8c8ea', '#d090f8', '#f8b4bc'],
  hits: gHits, names: gNames, legX: 1028, legY: 1117, legStep: 18.2});
</script>
</body></html>
